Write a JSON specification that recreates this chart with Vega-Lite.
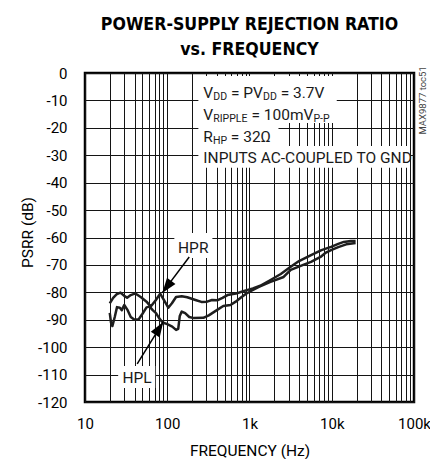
{
  "$schema": "https://vega.github.io/schema/vega-lite/v6.json",
  "width": 329,
  "height": 329,
  "autosize": {"type": "none"},
  "padding": {"left": 85, "top": 73, "right": 16, "bottom": 57},
  "background": "white",
  "config": {
    "font": "Roboto",
    "view": {"stroke": "black", "strokeWidth": 2.5},
    "axis": {"labelOverlap": false}
  },
  "title": {
    "text": ["POWER-SUPPLY REJECTION RATIO", "vs. FREQUENCY"],
    "font": "DejaVu Sans Condensed",
    "fontSize": 17.6,
    "fontWeight": "bold",
    "color": "black",
    "anchor": "middle",
    "lineHeight": 25,
    "baseline": "alphabetic",
    "offset": -7
  },
  "datasets": {
    "curves": [
      {"s": "HPR", "f": 20, "v": -84},
      {"s": "HPR", "f": 22, "v": -82},
      {"s": "HPR", "f": 24.5, "v": -80.6},
      {"s": "HPR", "f": 27, "v": -80.1},
      {"s": "HPR", "f": 30, "v": -81.3},
      {"s": "HPR", "f": 32.5, "v": -82},
      {"s": "HPR", "f": 36, "v": -81},
      {"s": "HPR", "f": 41, "v": -80.4},
      {"s": "HPR", "f": 48, "v": -81.8},
      {"s": "HPR", "f": 56, "v": -83.4},
      {"s": "HPR", "f": 63, "v": -85.2},
      {"s": "HPR", "f": 72, "v": -83},
      {"s": "HPR", "f": 82, "v": -80.5},
      {"s": "HPR", "f": 92, "v": -83},
      {"s": "HPR", "f": 103, "v": -85.6},
      {"s": "HPR", "f": 114, "v": -84},
      {"s": "HPR", "f": 128, "v": -81.7},
      {"s": "HPR", "f": 150, "v": -81.4},
      {"s": "HPR", "f": 175, "v": -81.8},
      {"s": "HPR", "f": 220, "v": -82.8},
      {"s": "HPR", "f": 260, "v": -83.5},
      {"s": "HPR", "f": 305, "v": -83.4},
      {"s": "HPR", "f": 350, "v": -82.8},
      {"s": "HPR", "f": 405, "v": -82.9},
      {"s": "HPR", "f": 470, "v": -82},
      {"s": "HPR", "f": 540, "v": -81},
      {"s": "HPR", "f": 630, "v": -80.6},
      {"s": "HPR", "f": 715, "v": -80.3},
      {"s": "HPR", "f": 820, "v": -79.7},
      {"s": "HPR", "f": 950, "v": -79.1},
      {"s": "HPR", "f": 1100, "v": -78.6},
      {"s": "HPR", "f": 1350, "v": -77.6},
      {"s": "HPR", "f": 1800, "v": -75.5},
      {"s": "HPR", "f": 2400, "v": -73.3},
      {"s": "HPR", "f": 3170, "v": -70.7},
      {"s": "HPR", "f": 4000, "v": -68.6},
      {"s": "HPR", "f": 5600, "v": -66.4},
      {"s": "HPR", "f": 7500, "v": -64.6},
      {"s": "HPR", "f": 9800, "v": -63.4},
      {"s": "HPR", "f": 12000, "v": -62.3},
      {"s": "HPR", "f": 14000, "v": -61.6},
      {"s": "HPR", "f": 17000, "v": -61.3},
      {"s": "HPR", "f": 19500, "v": -61.3},
      {"s": "HPL", "f": 20, "v": -87.5},
      {"s": "HPL", "f": 20.7, "v": -91},
      {"s": "HPL", "f": 21.5, "v": -92.3},
      {"s": "HPL", "f": 23, "v": -89},
      {"s": "HPL", "f": 24.5, "v": -85.4},
      {"s": "HPL", "f": 26.5, "v": -85.6},
      {"s": "HPL", "f": 28, "v": -86.5},
      {"s": "HPL", "f": 30, "v": -84.6},
      {"s": "HPL", "f": 33, "v": -86.5},
      {"s": "HPL", "f": 36, "v": -89},
      {"s": "HPL", "f": 40, "v": -90},
      {"s": "HPL", "f": 45, "v": -89.8},
      {"s": "HPL", "f": 50, "v": -87.8},
      {"s": "HPL", "f": 56, "v": -85.5},
      {"s": "HPL", "f": 61, "v": -85.2},
      {"s": "HPL", "f": 67, "v": -86.6},
      {"s": "HPL", "f": 73, "v": -87.6},
      {"s": "HPL", "f": 80, "v": -89.5},
      {"s": "HPL", "f": 88, "v": -91},
      {"s": "HPL", "f": 100, "v": -91.6},
      {"s": "HPL", "f": 115, "v": -92.5},
      {"s": "HPL", "f": 128, "v": -93.7},
      {"s": "HPL", "f": 136, "v": -93.3},
      {"s": "HPL", "f": 142, "v": -88.6},
      {"s": "HPL", "f": 150, "v": -87},
      {"s": "HPL", "f": 165, "v": -87.6},
      {"s": "HPL", "f": 185, "v": -89},
      {"s": "HPL", "f": 210, "v": -89.4},
      {"s": "HPL", "f": 275, "v": -89.3},
      {"s": "HPL", "f": 320, "v": -88.4},
      {"s": "HPL", "f": 405, "v": -86.4},
      {"s": "HPL", "f": 480, "v": -85},
      {"s": "HPL", "f": 587, "v": -84.6},
      {"s": "HPL", "f": 680, "v": -83.4},
      {"s": "HPL", "f": 780, "v": -82},
      {"s": "HPL", "f": 900, "v": -80.6},
      {"s": "HPL", "f": 1030, "v": -79.6},
      {"s": "HPL", "f": 1300, "v": -78},
      {"s": "HPL", "f": 1800, "v": -76.2},
      {"s": "HPL", "f": 2600, "v": -74.4},
      {"s": "HPL", "f": 3170, "v": -71.8},
      {"s": "HPL", "f": 4500, "v": -70},
      {"s": "HPL", "f": 5600, "v": -68.9},
      {"s": "HPL", "f": 7300, "v": -67.1},
      {"s": "HPL", "f": 8500, "v": -65.5},
      {"s": "HPL", "f": 9800, "v": -64.6},
      {"s": "HPL", "f": 12000, "v": -63.5},
      {"s": "HPL", "f": 15000, "v": -62.5},
      {"s": "HPL", "f": 19500, "v": -62}
    ],
    "boxes": [
      {"f1": 239, "f2": 11500, "v1": -1.1, "v2": -18.2},
      {"f1": 239, "f2": 2250, "v1": -18.2, "v2": -26.6},
      {"f1": 239, "f2": 89400, "v1": -26.6, "v2": -34.6},
      {"f1": 122, "f2": 354, "v1": -58.4, "v2": -67.5},
      {"f1": 25.3, "f2": 71.4, "v1": -106.9, "v2": -114.9}
    ],
    "main": [
      {"f": 274.8, "v": -9.01, "t": "V"},
      {"f": 594.8, "v": -9.01, "t": "= PV"},
      {"f": 2395, "v": -9.01, "t": "= 3.7V"},
      {"f": 274.8, "v": -17.14, "t": "V"},
      {"f": 1055, "v": -17.14, "t": "= 100mV"},
      {"f": 274.8, "v": -25.06, "t": "R"},
      {"f": 593.2, "v": -25.06, "t": "= 32Ω"},
      {"f": 274.8, "v": -32.94, "t": "INPUTS AC-COUPLED TO GND"}
    ],
    "sub": [
      {"f": 362.9, "v": -9.74, "t": "DD"},
      {"f": 1461, "v": -9.74, "t": "DD"},
      {"f": 362.9, "v": -17.87, "t": "RIPPLE"},
      {"f": 5998, "v": -17.87, "t": "P-P"},
      {"f": 358.9, "v": -25.79, "t": "HP"}
    ],
    "labels": [
      {"f": 207, "v": -65.8, "t": "HPR"},
      {"f": 43, "v": -113.2, "t": "HPL"}
    ],
    "tag": [
      {"f": 128900, "v": -10, "t": "MAX9877 toc51"}
    ],
    "arrows": [
      {"name": "HPR", "f1": 185, "v1": -67.1, "f2": 86.9, "v2": -80.2},
      {"name": "HPL", "f1": 43.1, "v1": -106.1, "f2": 89.4, "v2": -90.8}
    ]
  },
  "layer": [
    {
      "data": {"name": "curves"},
      "mark": {"type": "line", "color": "#1e1e1e", "strokeWidth": 2.5, "strokeJoin": "round"},
      "encoding": {
        "x": {
          "field": "f",
          "type": "quantitative",
          "title": "FREQUENCY (Hz)",
          "scale": {"type": "log", "domain": [10, 100000], "nice": false},
          "axis": {
            "values": [10, 20, 30, 40, 50, 60, 70, 80, 90, 100, 200, 300, 400, 500, 600, 700, 800, 900, 1000, 2000, 3000, 4000, 5000, 6000, 7000, 8000, 9000, 10000, 20000, 30000, 40000, 50000, 60000, 70000, 80000, 90000, 100000],
            "tickCount": 40,
            "labelExpr": "datum.value == 10 ? '10' : datum.value == 100 ? '100' : datum.value == 1000 ? '1k' : datum.value == 10000 ? '10k' : datum.value == 100000 ? '100k' : ''",
            "grid": true,
            "gridColor": "#141414",
            "gridWidth": 1,
            "gridOpacity": 1,
            "ticks": false,
            "tickSize": 0,
            "domain": false,
            "labelFont": "Roboto",
            "labelFontSize": 15,
            "labelColor": "black",
            "labelPadding": 14,
            "labelFlush": false,
            "labelOverlap": false,
            "labelBound": false,
            "titleFont": "Roboto",
            "titleFontSize": 15.5,
            "titleFontWeight": "normal",
            "titleColor": "black",
            "titleBaseline": "alphabetic",
            "titleY": 53
          }
        },
        "y": {
          "field": "v",
          "type": "quantitative",
          "title": "PSRR (dB)",
          "scale": {"domain": [-120, 0], "nice": false, "zero": false},
          "axis": {
            "values": [-120, -110, -100, -90, -80, -70, -60, -50, -40, -30, -20, -10, 0],
            "tickCount": 13,
            "labelExpr": "'' + datum.value",
            "grid": true,
            "gridColor": "#141414",
            "gridWidth": 1,
            "gridOpacity": 1,
            "ticks": false,
            "tickSize": 0,
            "domain": false,
            "labelFont": "Roboto",
            "labelFontSize": 15,
            "labelColor": "black",
            "labelPadding": 18,
            "labelOverlap": false,
            "labelFlush": false,
            "labelBound": false,
            "titleFont": "Roboto",
            "titleFontSize": 15.5,
            "titleFontWeight": "normal",
            "titleColor": "black",
            "titleBaseline": "alphabetic",
            "titleAngle": -90,
            "titleX": -53,
            "titleY": 159
          }
        },
        "detail": {"field": "s", "type": "nominal"}
      }
    },
    {
      "data": {"name": "boxes"},
      "mark": {"type": "rect", "fill": "white", "strokeWidth": 0},
      "encoding": {
        "x": {"field": "f1", "type": "quantitative", "title": "FREQUENCY (Hz)"},
        "x2": {"field": "f2"},
        "y": {"field": "v1", "type": "quantitative", "title": "PSRR (dB)"},
        "y2": {"field": "v2"}
      }
    },
    {
      "data": {"name": "main"},
      "mark": {"type": "text", "font": "Roboto", "fontSize": 15.5, "align": "left", "baseline": "alphabetic", "color": "#1a1a1a"},
      "encoding": {
        "x": {"field": "f", "type": "quantitative", "title": "FREQUENCY (Hz)"},
        "y": {"field": "v", "type": "quantitative", "title": "PSRR (dB)"},
        "text": {"field": "t"}
      }
    },
    {
      "data": {"name": "sub"},
      "mark": {"type": "text", "font": "Roboto", "fontSize": 10.5, "align": "left", "baseline": "alphabetic", "color": "#1a1a1a"},
      "encoding": {
        "x": {"field": "f", "type": "quantitative", "title": "FREQUENCY (Hz)"},
        "y": {"field": "v", "type": "quantitative", "title": "PSRR (dB)"},
        "text": {"field": "t"}
      }
    },
    {
      "data": {"name": "labels"},
      "mark": {"type": "text", "font": "Roboto", "fontSize": 15.5, "align": "center", "baseline": "alphabetic", "color": "#1a1a1a"},
      "encoding": {
        "x": {"field": "f", "type": "quantitative", "title": "FREQUENCY (Hz)"},
        "y": {"field": "v", "type": "quantitative", "title": "PSRR (dB)"},
        "text": {"field": "t"}
      }
    },
    {
      "data": {"name": "tag"},
      "mark": {"type": "text", "font": "Roboto", "fontSize": 9.5, "align": "center", "baseline": "middle", "angle": 270, "color": "#444"},
      "encoding": {
        "x": {"field": "f", "type": "quantitative", "title": "FREQUENCY (Hz)"},
        "y": {"field": "v", "type": "quantitative", "title": "PSRR (dB)"},
        "text": {"field": "t"}
      }
    },
    {
      "data": {"name": "arrows"},
      "mark": {"type": "rule", "color": "black", "strokeWidth": 1.5},
      "encoding": {
        "x": {"field": "f1", "type": "quantitative", "title": "FREQUENCY (Hz)"},
        "x2": {"field": "f2"},
        "y": {"field": "v1", "type": "quantitative", "title": "PSRR (dB)"},
        "y2": {"field": "v2"}
      }
    },
    {
      "data": {"name": "arrows"},
      "transform": [{"filter": "datum.name == 'HPR'"}],
      "mark": {"type": "point", "shape": "M0,0L-0.35,1L0.35,1Z", "filled": true, "color": "black", "opacity": 1, "size": 900, "angle": 216.9},
      "encoding": {
        "x": {"field": "f2", "type": "quantitative", "title": "FREQUENCY (Hz)"},
        "y": {"field": "v2", "type": "quantitative", "title": "PSRR (dB)"}
      }
    },
    {
      "data": {"name": "arrows"},
      "transform": [{"filter": "datum.name == 'HPL'"}],
      "mark": {"type": "point", "shape": "M0,0L-0.35,1L0.35,1Z", "filled": true, "color": "black", "opacity": 1, "size": 900, "angle": 32.4},
      "encoding": {
        "x": {"field": "f2", "type": "quantitative", "title": "FREQUENCY (Hz)"},
        "y": {"field": "v2", "type": "quantitative", "title": "PSRR (dB)"}
      }
    }
  ]
}
